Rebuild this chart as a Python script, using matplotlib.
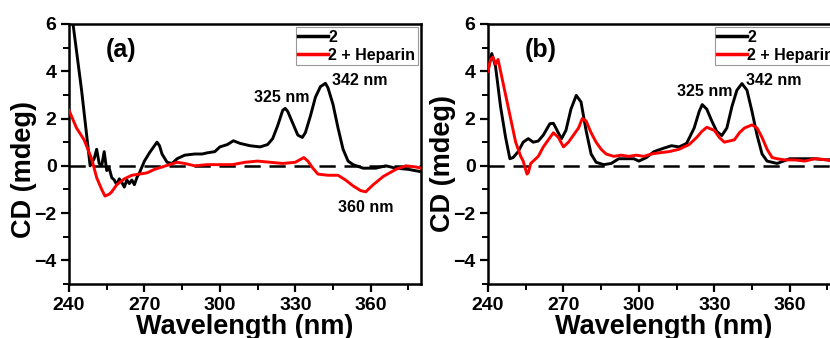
import matplotlib
matplotlib.use("Agg")
import matplotlib.pyplot as plt
from matplotlib.ticker import MultipleLocator, FixedLocator

plt.rcParams['font.family'] = ['Liberation Sans', 'DejaVu Sans']
plt.rcParams['font.weight'] = 'bold'

# Panel (a)
a_black_x = [240, 241.6, 245, 248.4, 250, 251, 252, 253, 254, 255, 256, 257, 258, 259, 260, 261, 262, 263, 264, 265, 266, 267, 268, 270, 272, 273, 275, 276, 277, 279, 281, 283, 286, 290, 293, 295, 298, 300, 303, 305.4, 308, 312, 316, 319, 321, 323, 325, 326, 327, 329, 331, 332.8, 334, 336, 338, 340, 342, 343, 345, 347, 349, 351, 353, 357, 362, 366, 370, 375, 380]
a_black_y = [8.0, 6.0, 3.2, 0.0, 0.3, 0.7, 0.1, 0.0, 0.6, -0.2, -0.1, -0.5, -0.6, -0.8, -0.55, -0.7, -0.9, -0.6, -0.75, -0.6, -0.8, -0.5, -0.3, 0.2, 0.55, 0.7, 1.0, 0.85, 0.5, 0.15, 0.1, 0.3, 0.45, 0.5, 0.5, 0.55, 0.6, 0.8, 0.9, 1.06, 0.95, 0.85, 0.8, 0.9, 1.15, 1.7, 2.35, 2.43, 2.3, 1.8, 1.3, 1.2, 1.4, 2.1, 2.9, 3.35, 3.49, 3.3, 2.6, 1.6, 0.7, 0.2, 0.05, -0.1, -0.1, 0.0, -0.1, -0.15, -0.25]
a_red_x = [240, 243, 246, 249, 251, 253, 254.3, 256, 257, 259, 262, 265, 268, 271, 274, 277, 280, 283, 286, 290, 295, 300, 305, 310, 315, 320, 325, 330, 333.4, 335, 337, 339, 343, 347, 350, 353, 356, 358, 361, 365, 370, 374, 378, 380]
a_red_y = [2.35, 1.6, 1.1, 0.3, -0.5, -1.0, -1.28, -1.2, -1.1, -0.8, -0.55, -0.4, -0.35, -0.3, -0.15, -0.05, 0.05, 0.15, 0.1, 0.0, 0.05, 0.05, 0.05, 0.15, 0.2, 0.15, 0.1, 0.15, 0.35, 0.2, -0.1, -0.35, -0.4, -0.4, -0.6, -0.85, -1.05, -1.1, -0.8, -0.45, -0.15, 0.0, -0.05, -0.1]

# Panel (b)
b_black_x = [240, 241.5, 243, 245, 247, 248.7, 250, 252, 254, 256, 258, 260, 262, 264.6, 266, 267, 269.2, 271, 273, 275.1, 277, 279, 281, 283, 286, 289, 292, 295, 298, 300, 303, 306, 310, 313, 316, 319, 322, 324, 325.2, 327, 329, 331, 333, 335, 337, 339, 341, 343, 345, 347, 349, 351, 355, 360, 365, 370, 375, 380]
b_black_y = [4.04, 4.75, 4.2, 2.5, 1.2, 0.3, 0.35, 0.6, 1.0, 1.15, 1.0, 1.05, 1.3, 1.78, 1.8, 1.6, 1.14, 1.5, 2.4, 2.98, 2.7, 1.5, 0.5, 0.15, 0.05, 0.1, 0.3, 0.3, 0.3, 0.2, 0.35, 0.6, 0.75, 0.85, 0.8, 0.95, 1.6, 2.3, 2.59, 2.4, 1.9, 1.45, 1.28, 1.6, 2.5, 3.2, 3.48, 3.2, 2.3, 1.3, 0.5, 0.2, 0.1, 0.3, 0.3, 0.3, 0.25, 0.3]
b_red_x = [240, 241, 242, 243, 244, 245, 247, 249, 251, 253, 254, 255.5, 256, 257, 258, 260, 262, 264, 266, 268, 270, 272, 274, 276, 277.5, 279, 281, 283, 285, 287, 290, 293, 296, 299, 302, 305, 308, 312, 316, 320, 323, 325, 327, 330, 332, 334, 336, 338, 340, 342, 345, 347, 349, 351, 353, 355, 358, 362, 366, 370, 375, 380]
b_red_y = [4.0, 4.5, 4.6, 4.3, 4.5, 4.0, 3.0, 2.0, 1.0, 0.4, 0.2, -0.35, -0.3, 0.1, 0.2, 0.4, 0.8, 1.1, 1.4, 1.2, 0.8, 1.0, 1.3, 1.6, 2.0, 1.9, 1.4, 1.0, 0.7, 0.5, 0.4, 0.45, 0.4, 0.45, 0.4, 0.5, 0.55, 0.6, 0.7, 0.9, 1.2, 1.45, 1.63, 1.5, 1.2, 1.0, 1.05, 1.1, 1.4, 1.6, 1.73, 1.6, 1.2, 0.7, 0.35, 0.3, 0.25, 0.25, 0.2, 0.3, 0.25, 0.1]

x_ticks = [240, 270, 300, 330, 360]
y_ticks = [-4, -2, 0, 2, 4, 6]
series_labels = ['2', '2 + Heparin']
panel_labels = ['(a)', '(b)']
a_notes = [('325 nm', 324.5, 2.9), ('342 nm', 355.5, 3.6), ('360 nm', 358, -1.75)]
b_notes = [('325 nm', 326.3, 3.15), ('342 nm', 353.7, 3.6)]

fig = plt.figure(figsize=(8.3, 3.38), dpi=100)
W, H = 830, 338
axA = fig.add_axes([69 / W, 54 / H, 352 / W, 260 / H])
axB = fig.add_axes([488 / W, 54 / H, 352 / W, 260 / H])

panels = [
    (axA, a_black_x, a_black_y, a_red_x, a_red_y, a_notes, panel_labels[0], 0.44),
    (axB, b_black_x, b_black_y, b_red_x, b_red_y, b_notes, panel_labels[1], 0.465),
]

for ax, bx, by, rx, ry, notes, plabel, ylab_y in panels:
    ax.plot(bx, by, color='black', lw=2.1, label=series_labels[0], zorder=3)
    ax.plot(rx, ry, color='#ff0000', lw=2.1, label=series_labels[1], zorder=3)
    ax.axhline(0, color='black', lw=1.8, ls=(0, (6.5, 3.5)), zorder=2)
    ax.set_xlim(240, 380)
    ax.set_ylim(-5, 6)
    ax.xaxis.set_major_locator(FixedLocator(x_ticks))
    ax.xaxis.set_minor_locator(MultipleLocator(15))
    ax.yaxis.set_major_locator(FixedLocator(y_ticks))
    ax.yaxis.set_minor_locator(MultipleLocator(1))
    ax.tick_params(which='major', direction='out', length=6, width=1.6,
                   labelsize=14, pad=3)
    ax.tick_params(which='minor', direction='out', length=4, width=1.4)
    for lab in ax.get_xticklabels() + ax.get_yticklabels():
        lab.set_fontweight('bold')
    for sp in ax.spines.values():
        sp.set_linewidth(1.8)
    ax.set_xlabel('Wavelength (nm)', fontsize=19.5, fontweight='bold')
    ax.xaxis.set_label_coords(0.5, -0.115)
    ax.set_ylabel('CD (mdeg)', fontsize=19.5, fontweight='bold')
    ax.yaxis.set_label_coords(-0.092, ylab_y)
    ax.text(0.105, 0.9, plabel, transform=ax.transAxes, fontsize=18,
            fontweight='bold', ha='left', va='center')
    for txt, x, y in notes:
        ax.text(x, y, txt, fontsize=11.5, fontweight='bold', ha='center', va='center')
    leg = ax.legend(loc='upper right', fontsize=11.5, frameon=True, fancybox=False,
                    edgecolor='#999999', framealpha=1, handlelength=1.9,
                    handletextpad=0.0, borderpad=0.15, labelspacing=0.2,
                    borderaxespad=0.2)
    leg.get_frame().set_linewidth(0.8)
    for t in leg.get_texts():
        t.set_fontweight('bold')
    for l in leg.get_lines():
        l.set_linewidth(2.5)

fig.savefig('out.png', dpi=100)
